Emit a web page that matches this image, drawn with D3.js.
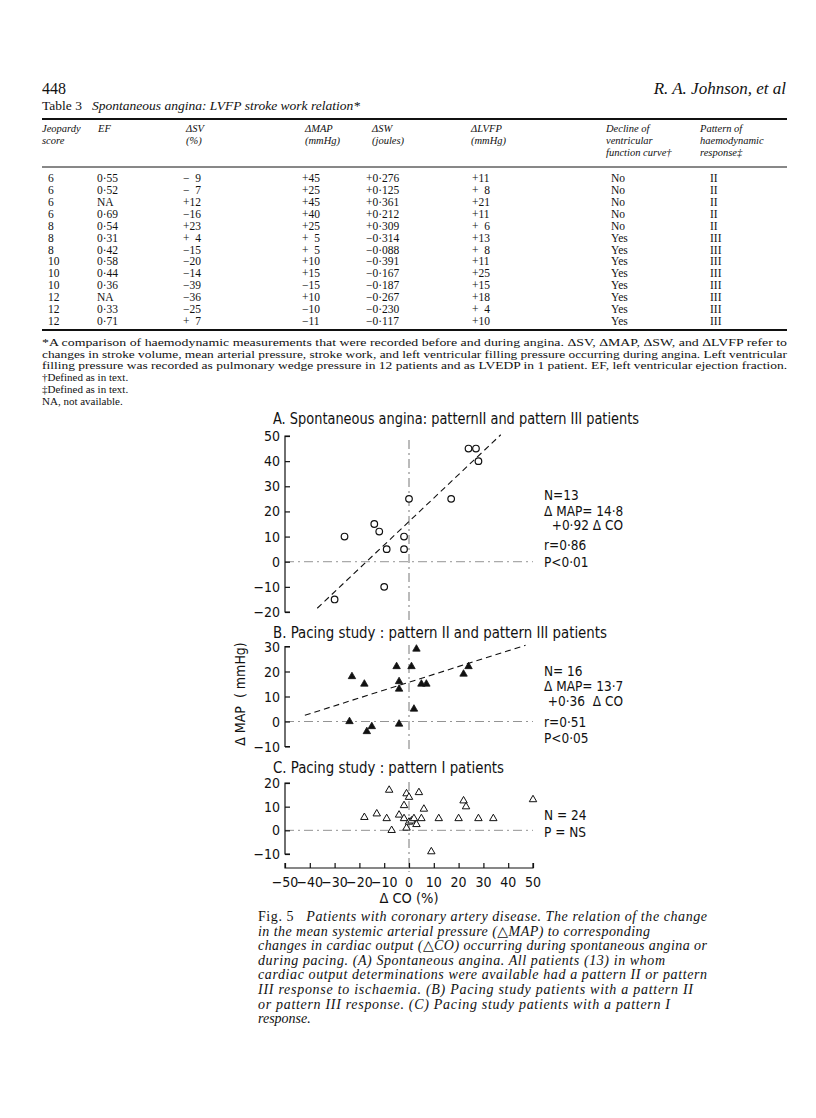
<!doctype html>
<html lang="en">
<head>
<meta charset="utf-8">
<title>Fig. 5 — ΔMAP vs ΔCO</title>
<script src="https://d3js.org/d3.v7.min.js"></script>
<style>
  body { margin: 0; background: #fff; }
  svg { display: block; }
  .serif { font-family: "Liberation Serif", "DejaVu Serif", serif; fill: #111; }
  .it { font-style: italic; }
  .plot { font-family: "DejaVu Sans Condensed", "DejaVu Sans", sans-serif; font-stretch: condensed; fill: #111; }
</style>
</head>
<body>
<div id="page"></div>
<script>
// ---- table 3 data ----
const score   = [6, 6, 6, 6, 8, 8, 8, 10, 10, 10, 12, 12, 12];
const ef      = ["0·55", "0·52", "NA", "0·69", "0·54", "0·31", "0·42", "0·58", "0·44", "0·36", "NA", "0·33", "0·71"];
const dSV     = [-9, -7, 12, -16, 23, 4, -15, -20, -14, -39, -36, -25, 7];
const dMAP    = [45, 25, 45, 40, 25, 5, 5, 10, 15, -15, 10, -10, -11];
const dSW     = ["+0·276", "+0·125", "+0·361", "+0·212", "+0·309", "−0·314", "−0·088", "−0·391", "−0·167", "−0·187", "−0·267", "−0·230", "−0·117"];
const dLVFP   = [11, 8, 21, 11, 6, 13, 8, 11, 25, 15, 18, 4, 10];
const decline = ["No", "No", "No", "No", "No", "Yes", "Yes", "Yes", "Yes", "Yes", "Yes", "Yes", "Yes"];
const pattern = ["II", "II", "II", "II", "II", "III", "III", "III", "III", "III", "III", "III", "III"];

// ---- figure 5 data: [ΔCO %, ΔMAP mmHg] ----
const ptsA = [[24, 45], [27, 45], [28, 40], [0, 25], [17, 25], [-14, 15], [-12, 12],
              [-26, 10], [-2, 10], [-9, 5], [-2, 5], [-10, -10], [-30, -15]];
const ptsB = [[-23, 18], [-18, 15], [-5, 22], [-4, 16], [-4, 13], [3, 29], [1, 22], [5, 15],
              [7, 15], [2, 5], [22, 19], [24, 22], [-24, 0], [-17, -4], [-15, -2], [-4, -1]];
const ptsC = [[-18, 5.5], [-13, 7], [-9, 5], [-8, 17], [-7, 0], [-4, 6.5], [-2, 5], [-2, 10.5],
              [-1, 15.5], [0, 14], [-1, 1], [0, 3.5], [1, 4], [2, 5], [3, 2.5], [4, 16], [5, 5],
              [6, 9], [9, -9], [12, 5], [20, 5], [22, 12.5], [23, 10], [28, 5], [34, 5], [50, 13]];
const fitA = [[-37, -18.5], [37, 50.5]];
const fitB = [[-42, 2.5], [47, 30.5]];
const xTicks = [-50, -40, -30, -20, -10, 0, 10, 20, 30, 40, 50];
const yTicksA = [-20, -10, 0, 10, 20, 30, 40, 50];
const yTicksB = [-10, 0, 10, 20, 30];
const yTicksC = [-10, 0, 10, 20];
const statsA = ["N=13", "Δ MAP= 14·8", "  +0·92 Δ CO", "r=0·86", "P<0·01"];
const statsB = ["N= 16", "Δ MAP= 13·7", " +0·36  Δ CO", "r=0·51", "P<0·05"];
const statsC = ["N = 24", "P = NS"];

const W = 816, H = 1118;
const svg = d3.select("#page").append("svg").attr("width", W).attr("height", H);
svg.append("rect").attr("width", W).attr("height", H).attr("fill", "#fff");

// ---- page header ----
svg.append("text").attr("class", "serif").attr("x", 42).attr("y", 94)
  .attr("font-size", 16).text("448");
svg.append("text").attr("class", "serif it").attr("x", 786).attr("y", 94)
  .attr("text-anchor", "end").attr("font-size", 17).text("R. A. Johnson, et al");

const cap = svg.append("text").attr("class", "serif").attr("x", 42).attr("y", 110).attr("font-size", 13.5);
cap.append("tspan").attr("xml:space", "preserve").style("white-space", "pre").text("Table 3   ");
cap.append("tspan").attr("font-style", "italic").text("Spontaneous angina: LVFP stroke work relation*");

// ---- table ----
svg.append("line").attr("x1", 42).attr("x2", 787).attr("y1", 119).attr("y2", 119)
  .attr("stroke", "#111").attr("stroke-width", 2);
svg.append("line").attr("x1", 42).attr("x2", 787).attr("y1", 167).attr("y2", 167)
  .attr("stroke", "#111").attr("stroke-width", 1);
svg.append("line").attr("x1", 42).attr("x2", 787).attr("y1", 330).attr("y2", 330)
  .attr("stroke", "#111").attr("stroke-width", 2);

const headers = [
  {x: 42,  lines: ["Jeopardy", "score"]},
  {x: 98,  lines: ["EF"]},
  {x: 186, lines: ["ΔSV", "(%)"]},
  {x: 305, lines: ["ΔMAP", "(mmHg)"]},
  {x: 372, lines: ["ΔSW", "(joules)"]},
  {x: 471, lines: ["ΔLVFP", "(mmHg)"]},
  {x: 606, lines: ["Decline of", "ventricular", "function curve†"]},
  {x: 700, lines: ["Pattern of", "haemodynamic", "response‡"]}
];
headers.forEach(h => {
  h.lines.forEach((t, i) => {
    svg.append("text").attr("class", "serif it").attr("x", h.x).attr("y", 132 + i * 12)
      .attr("font-size", 10.5).text(t);
  });
});

const rowY = d3.scalePoint().domain(d3.range(score.length)).range([182, 325]);
const sgn = v => (v < 0 ? "−" : "+") + (Math.abs(v) < 10 ? "\u2007" : "") + Math.abs(v);
const cols = [
  {x: 48,  vals: score.map(String)},
  {x: 97,  vals: ef},
  {x: 183, vals: dSV.map(sgn)},
  {x: 302, vals: dMAP.map(sgn)},
  {x: 366, vals: dSW},
  {x: 472, vals: dLVFP.map(sgn)},
  {x: 611, vals: decline},
  {x: 710, vals: pattern}
];
cols.forEach(c => {
  svg.append("g").selectAll("text").data(c.vals).join("text")
    .attr("class", "serif").attr("x", c.x).attr("y", (d, i) => rowY(i))
    .attr("font-size", 11.5).text(d => d);
});

// footnotes
const notes = [
  {t: "*A comparison of haemodynamic measurements that were recorded before and during angina. ΔSV, ΔMAP, ΔSW, and ΔLVFP refer to", j: true},
  {t: "changes in stroke volume, mean arterial pressure, stroke work, and left ventricular filling pressure occurring during angina. Left ventricular", j: true},
  {t: "filling pressure was recorded as pulmonary wedge pressure in 12 patients and as LVEDP in 1 patient. EF, left ventricular ejection fraction.", j: true},
  {t: "†Defined as in text.", j: false},
  {t: "‡Defined as in text.", j: false},
  {t: "NA, not available.", j: false}
];
notes.forEach((n, i) => {
  const t = svg.append("text").attr("class", "serif").attr("x", 42).attr("y", 346 + i * 11.7)
    .attr("font-size", 11).text(n.t);
  if (n.j) t.attr("textLength", 745).attr("lengthAdjust", "spacingAndGlyphs");
});

// ---- figure ----
const x = d3.scaleLinear().domain([-50, 50]).range([285, 533]);
const panels = [
  {key: "A", domain: [-20, 50], range: [612, 436], ticks: yTicksA, pts: ptsA, fit: fitA, mark: "circle",
   title: "A.  Spontaneous angina: patternII and pattern III patients", tY: 424, tLen: 366,
   stats: statsA, sY: [500, 516, 530, 550, 567], vTop: 440, vBot: 620},
  {key: "B", domain: [-10, 30], range: [746.5, 646.5], ticks: yTicksB, pts: ptsB, fit: fitB, mark: "filled",
   title: "B. Pacing  study : pattern II and  pattern III patients", tY: 638, tLen: 334,
   stats: statsB, sY: [676, 691, 706, 727, 743], vTop: 645, vBot: 752},
  {key: "C", domain: [-10, 20], range: [854, 783], ticks: yTicksC, pts: ptsC, fit: null, mark: "open",
   title: "C. Pacing  study : pattern I patients", tY: 773, tLen: 231,
   stats: statsC, sY: [820, 837], vTop: 782, vBot: 872}
];

const fig = svg.append("g").attr("class", "plot");
const tri = d3.symbol().type(d3.symbolTriangle).size(24);

panels.forEach(p => {
  const y = d3.scaleLinear().domain(p.domain).range(p.range);
  const g = fig.append("g");

  // title
  g.append("text").attr("x", 273).attr("y", p.tY).attr("font-size", 16)
    .attr("textLength", p.tLen).attr("lengthAdjust", "spacingAndGlyphs").text(p.title);

  // reference lines (dash-dot, grey)
  g.append("line").attr("x1", x(-50)).attr("x2", x(50)).attr("y1", y(0)).attr("y2", y(0))
    .attr("stroke", "#888").attr("stroke-width", 0.9).attr("stroke-dasharray", "9,4,2,4");
  g.append("line").attr("x1", x(0)).attr("x2", x(0)).attr("y1", p.vTop).attr("y2", p.vBot)
    .attr("stroke", "#666").attr("stroke-width", 0.9).attr("stroke-dasharray", "9,4,2,4");

  // y axis, ticks pointing inward
  const ax = g.append("g").attr("transform", `translate(${x(-50)},0)`)
    .call(d3.axisRight(y).tickValues(p.ticks).tickSize(5).tickFormat(""));
  ax.select(".domain").attr("d", `M5,${p.range[1]}H0V${p.range[0]}H5`).attr("stroke", "#111").attr("stroke-width", 1.2);
  ax.selectAll(".tick line").attr("stroke", "#111").attr("stroke-width", 1.2);
  g.append("g").selectAll("text").data(p.ticks).join("text")
    .attr("x", x(-50) - 5).attr("y", d => y(d) + 5).attr("text-anchor", "end")
    .attr("font-size", 14).text(d => d < 0 ? "−" + Math.abs(d) : d);

  // regression line
  if (p.fit) {
    g.append("line").attr("x1", x(p.fit[0][0])).attr("y1", y(p.fit[0][1]))
      .attr("x2", x(p.fit[1][0])).attr("y2", y(p.fit[1][1]))
      .attr("stroke", "#111").attr("stroke-width", 1.1).attr("stroke-dasharray", "6,4");
  }

  // points
  if (p.mark === "circle") {
    g.append("g").selectAll("circle").data(p.pts).join("circle")
      .attr("cx", d => x(d[0])).attr("cy", d => y(d[1])).attr("r", 3.3)
      .attr("fill", "#fff").attr("stroke", "#111").attr("stroke-width", 1.2);
  } else {
    g.append("g").selectAll("path").data(p.pts).join("path")
      .attr("d", tri).attr("transform", d => `translate(${x(d[0])},${y(d[1])})`)
      .attr("fill", p.mark === "filled" ? "#111" : "#fff")
      .attr("stroke", "#111").attr("stroke-width", p.mark === "filled" ? 0.8 : 1);
  }

  // stats
  p.stats.forEach((s, i) => {
    g.append("text").attr("x", 544).attr("y", p.sY[i]).attr("font-size", 13.5)
      .attr("xml:space", "preserve").style("white-space", "pre").text(s);
  });

  // bottom x axis on last panel
  if (p.key === "C") {
    const xa = g.append("g").attr("transform", "translate(0,868)")
      .call(d3.axisTop(x).tickValues(xTicks).tickSize(5).tickFormat(""));
    xa.select(".domain").attr("d", `M${x(-50)},-5V0H${x(50)}V-5`).attr("stroke", "#111").attr("stroke-width", 1.2);
    xa.selectAll(".tick line").attr("stroke", "#111").attr("stroke-width", 1.2);
    g.append("g").selectAll("text").data(xTicks).join("text")
      .attr("x", d => x(d)).attr("y", 887).attr("text-anchor", "middle")
      .attr("font-size", 14).text(d => d < 0 ? "−" + Math.abs(d) : d);
    g.append("text").attr("x", x(0)).attr("y", 903).attr("text-anchor", "middle")
      .attr("font-size", 14.5).text("Δ CO (%)");
  }
});

// shared y label
fig.append("text").attr("transform", "translate(245,694) rotate(-90)")
  .attr("text-anchor", "middle").attr("font-size", 14)
  .attr("xml:space", "preserve").style("white-space", "pre").text("Δ MAP  ( mmHg)");

// ---- caption ----
const capLines = [
  {t: "Patients with coronary artery disease. The relation of the change", w: 449, lead: "Fig. 5   "},
  {t: "in the mean systemic arterial pressure (△MAP) to corresponding", w: 392},
  {t: "changes in cardiac output (△CO) occurring during spontaneous angina or", w: 449},
  {t: "during pacing. (A) Spontaneous angina. All patients (13) in whom", w: 407},
  {t: "cardiac output determinations were available had a pattern II or pattern", w: 449},
  {t: "III response to ischaemia. (B) Pacing study patients with a pattern II", w: 435},
  {t: "or pattern III response. (C) Pacing study patients with a pattern I", w: 412},
  {t: "response."}
];
capLines.forEach((c, i) => {
  const t = svg.append("text").attr("class", "serif").attr("x", 258).attr("y", 921 + i * 14.6)
    .attr("font-size", 14);
  if (c.lead) {
    t.append("tspan").attr("xml:space", "preserve").style("white-space", "pre").text(c.lead);
  }
  t.append("tspan").attr("font-style", "italic").text(c.t);
  if (c.w) t.attr("textLength", c.w).attr("lengthAdjust", "spacing");
});
</script>
</body>
</html>
